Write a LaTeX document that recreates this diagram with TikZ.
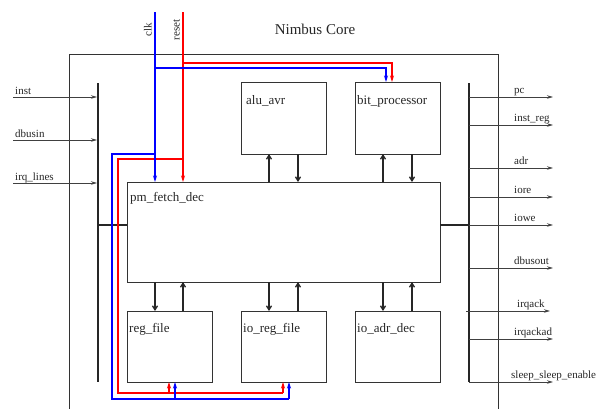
\documentclass[tikz,border=0pt]{standalone}
\usepackage{fontspec}
\setmainfont{Liberation Serif}
\usetikzlibrary{arrows.meta}
\begin{document}
\begin{tikzpicture}[x=1pt,y=-1pt,
  blk/.style={draw=black!80, line width=0.9pt, inner sep=0pt, outer sep=0pt},
  bar/.style={fill=black!85, inner sep=0pt, outer sep=0pt, minimum width=2pt, minimum height=299pt},
  buslink/.style={line width=1.6pt, black!85},
  sig/.style={line width=0.8pt, black!75, -{Stealth[length=6pt,width=3.5pt]}},
  link/.style={line width=1.3pt, black!85, -{Straight Barb[length=4pt,width=5pt]}},
  bsig/.style={line width=1.15pt, blue},
  rsig/.style={line width=1.15pt, red},
  btip/.style={-{Stealth[length=6.5pt,width=4pt]}},
  plab/.style={font=\fontsize{11}{13}\selectfont, inner sep=0pt, anchor=base west, text=black!85},
  blab/.style={font=\fontsize{13}{15}\selectfont, inner sep=0pt, anchor=base west, text=black!85}
]
\useasboundingbox (0,0) rectangle (598,408);

% title
\node[font=\fontsize{15}{17}\selectfont, anchor=base, inner sep=0pt, text=black!85] (title) at (315,34) {Nimbus Core};

% outer frame
\draw[line width=0.8pt, black!80] (69,410) -- (69,54) -- (498,54) -- (498,410);

% blocks
\node[blk, minimum width=85pt, minimum height=72pt] (alu) at (283.5,118) {};
\node[blk, minimum width=85pt, minimum height=72pt] (bit) at (397.5,118) {};
\node[blk, minimum width=313pt, minimum height=100pt] (pm) at (283.5,232) {};
\node[blk, minimum width=85pt, minimum height=71pt] (reg) at (169.5,346.5) {};
\node[blk, minimum width=85pt, minimum height=71pt] (ioreg) at (283.5,346.5) {};
\node[blk, minimum width=85pt, minimum height=71pt] (ioadr) at (397.5,346.5) {};

\node[blab] (alul) at (246,104) {alu\_avr};
\node[blab] (bitl) at (357,104) {bit\_processor};
\node[blab] (pml) at (130,201) {pm\_fetch\_dec};
\node[blab] (regl) at (129,332) {reg\_file};
\node[blab] (ioregl) at (243,332) {io\_reg\_file};
\node[blab] (ioadrl) at (357,332) {io\_adr\_dec};

% bus bars
\node[bar] (lb) at (98,232.5) {};
\node[bar] (rb) at (469,232.5) {};
\draw[buslink] (lb.center |- 0,225) -- (pm.west |- 0,225);
\draw[buslink] (pm.east |- 0,225) -- (rb.center |- 0,225);

% block links
\draw[link] (pm.north -| 269,0) -- (alu.south -| 269,0);
\draw[link] (alu.south -| 298,0) -- (pm.north -| 298,0);
\draw[link] (pm.north -| 383,0) -- (bit.south -| 383,0);
\draw[link] (bit.south -| 412,0) -- (pm.north -| 412,0);
\draw[link] (pm.south -| 155,0) -- (reg.north -| 155,0);
\draw[link] (reg.north -| 183,0) -- (pm.south -| 183,0);
\draw[link] (pm.south -| 269,0) -- (ioreg.north -| 269,0);
\draw[link] (ioreg.north -| 298,0) -- (pm.south -| 298,0);
\draw[link] (pm.south -| 383,0) -- (ioadr.north -| 383,0);
\draw[link] (ioadr.north -| 412,0) -- (pm.south -| 412,0);

% inputs
\coordinate (iin) at (13,97);
\coordinate (idb) at (13,140);
\coordinate (iirq) at (13,183);
\draw[sig] (iin) -- (iin -| lb.west);
\draw[sig] (idb) -- (idb -| lb.west);
\draw[sig] (iirq) -- (iirq -| lb.west);
\node[plab] (linst) at (15,94) {inst};
\node[plab] (ldb) at (15,137) {dbusin};
\node[plab] (lirq) at (15,180) {irq\_lines};

% outputs
\coordinate (opc) at (553,97);
\coordinate (oir) at (553,125);
\coordinate (oadr) at (553,168);
\coordinate (oiore) at (553,197);
\coordinate (oiowe) at (553,225);
\coordinate (odb) at (553,268);
\coordinate (oack) at (550,311);
\coordinate (oackad) at (553,339);
\coordinate (osl) at (553,382);
\draw[sig] (opc -| rb.center) -- (opc);
\draw[sig] (oir -| rb.center) -- (oir);
\draw[sig] (oadr -| rb.center) -- (oadr);
\draw[sig] (oiore -| rb.center) -- (oiore);
\draw[sig] (oiowe -| rb.center) -- (oiowe);
\draw[sig] (odb -| rb.center) -- (odb);
\draw[sig] (466,311) -- (oack);
\draw[sig] (oackad -| rb.center) -- (oackad);
\draw[sig] (osl -| rb.center) -- (osl);
\node[plab] (lpc) at (514,93) {pc};
\node[plab] (lir) at (514,121) {inst\_reg};
\node[plab] (ladr) at (514,164) {adr};
\node[plab] (liore) at (514,193) {iore};
\node[plab] (liowe) at (514,221) {iowe};
\node[plab] (ldbo) at (514,264) {dbusout};
\node[plab] (lack) at (517,307) {irqack};
\node[plab] (lackad) at (514,335) {irqackad};
\node[plab] (lsl) at (511,378) {sleep\_sleep\_enable};

% clock and reset
\coordinate (clk) at (155,12);
\coordinate (rst) at (183,12);
\node[plab, rotate=90, anchor=south, inner sep=1pt] (clkl) at (153,30) {clk};
\node[plab, rotate=90, anchor=south, inner sep=1pt] (rstl) at (181,30) {reset};

\draw[rsig, btip] (rst) -- (rst |- pm.north);
\draw[rsig, btip] (183,63) -- (392,63) -- (bit.north -| 392,0);
\draw[rsig] (183,159) -- (118,159) -- (118,393) -- (283,393);
\draw[rsig, btip] (283,393) -- (ioreg.south -| 283,0);
\draw[rsig, btip] (169,393) -- (reg.south -| 169,0);

\draw[bsig, btip] (clk) -- (clk |- pm.north);
\draw[bsig, btip] (155,68) -- (386,68) -- (bit.north -| 386,0);
\draw[bsig] (155,154) -- (112,154) -- (112,399) -- (289,399);
\draw[bsig, btip] (289,399) -- (ioreg.south -| 289,0);
\draw[bsig, btip] (175,399) -- (reg.south -| 175,0);
\end{tikzpicture}
\end{document}
